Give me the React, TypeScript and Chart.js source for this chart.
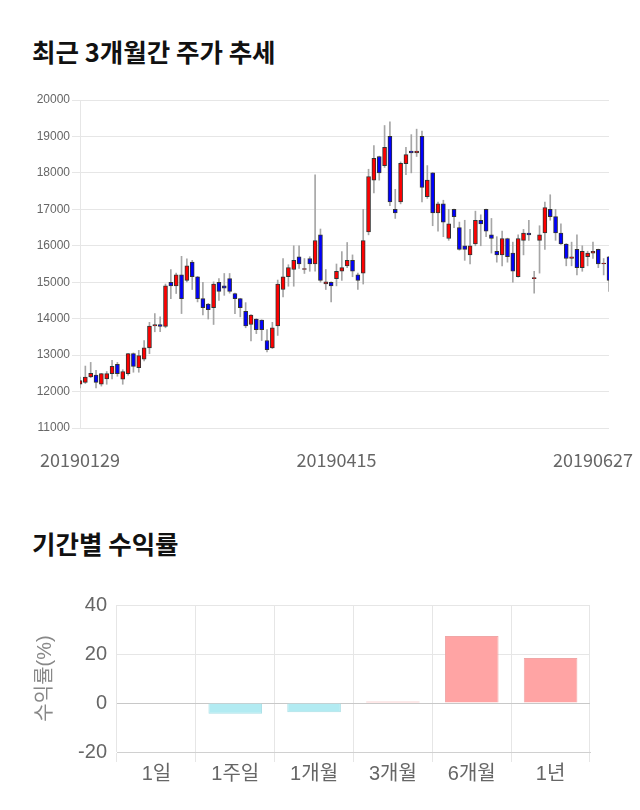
import { useEffect, useRef } from 'react';
import { Chart, registerables } from 'chart.js';

Chart.register(...registerables);

const FONT = "'Liberation Sans', Arial, 'Noto Sans CJK KR', sans-serif";
const CJK_FONT = "'Noto Sans CJK KR', sans-serif";

// ---- price chart data ----
const dates = [
  '20190129', '20190130', '20190131',
  '20190208', '20190211', '20190212', '20190213', '20190214', '20190215', '20190218', '20190219', '20190220', '20190221', '20190222', '20190225', '20190226', '20190227', '20190228',
  '20190304', '20190305', '20190306', '20190307', '20190308', '20190311', '20190312', '20190313', '20190314', '20190315', '20190318', '20190319', '20190320', '20190321', '20190322', '20190325', '20190326', '20190327', '20190328', '20190329',
  '20190401', '20190402', '20190403', '20190404', '20190405', '20190408', '20190409', '20190410', '20190411', '20190412',
  '20190415', '20190416', '20190417', '20190418', '20190419', '20190422', '20190423', '20190424', '20190425', '20190426', '20190429', '20190430',
  '20190507', '20190508', '20190509', '20190510', '20190513', '20190514', '20190515', '20190516', '20190517', '20190520', '20190521', '20190522', '20190523', '20190524', '20190527', '20190528', '20190529', '20190530', '20190531',
  '20190603', '20190604', '20190605', '20190607', '20190610', '20190611', '20190612', '20190613', '20190614', '20190617', '20190618', '20190619', '20190620', '20190621', '20190624', '20190625', '20190626', '20190627',
  '20190628', '20190701', '20190702',
];

const openPrices = [
  12200, 12250, 12400, 12450, 12200, 12350, 12490, 12750, 12340, 12490,
  13040, 12655, 12890, 13200, 13800, 13840, 13790, 15000, 14900, 15200,
  15050, 15550, 15150, 14550, 14400, 14300, 15000, 14900, 15100, 14690,
  14550, 14200, 13840, 13990, 13960, 13400, 13200, 13800, 14800, 15150,
  15350, 15700, 15350, 15650, 15500, 16300, 14950, 15000, 15100, 15300,
  15450, 15600, 15200, 15250, 16380, 17800, 18450, 18200, 19000, 17000,
  17200, 18250, 18600, 18550, 19000, 17350, 18000, 16900, 17150, 16200,
  17000, 16500, 16000, 15750, 16050, 16700, 17000, 16300, 15850, 15750,
  16200, 15800, 15150, 16150, 16350, 15100, 16150, 16350, 17000, 16800,
  16350, 16050, 15650, 15900, 15400, 15700, 15800, 15900, 15500, 15700,
];
const highPrices = [
  12400, 12700, 12800, 12580, 12500, 12550, 12860, 12800, 12600, 13050,
  13060, 13130, 13400, 13900, 14140, 14050, 14950, 15350, 15250, 15710,
  15640, 15600, 15160, 15000, 14420, 15010, 15100, 15240, 15240, 14700,
  14560, 14440, 14110, 14000, 13970, 13700, 13900, 15060, 15650, 15480,
  16000, 16000, 15650, 15700, 17950, 16460, 15350, 15010, 15500, 15840,
  16090, 15750, 15250, 17000, 18100, 18750, 18460, 19300, 19400, 17550,
  18300, 18700, 19050, 19200, 19150, 18200, 18010, 17200, 17250, 17000,
  17010, 16650, 16700, 16450, 16950, 16850, 17010, 16750, 16250, 16400,
  16210, 16100, 16300, 16450, 16700, 15300, 16550, 17200, 17400, 17000,
  16600, 16060, 16100, 16300, 16000, 15850, 16100, 15910, 15650, 15710,
];
const lowPrices = [
  12100, 12220, 12380, 12100, 12150, 12200, 12350, 12420, 12200, 12450,
  12530, 12530, 12840, 13040, 13640, 13640, 13750, 14550, 14690, 14140,
  15010, 14800, 14460, 14100, 13990, 13840, 14500, 14640, 14700, 14140,
  14050, 13750, 13390, 13590, 13400, 13090, 13180, 13540, 14600, 14890,
  14890, 15380, 15240, 15300, 15300, 15000, 14800, 14460, 14900, 15050,
  15400, 15150, 14800, 14950, 16300, 17450, 17800, 18150, 17100, 16750,
  17150, 17950, 18000, 18450, 17200, 17300, 16550, 16400, 16250, 16150,
  16500, 15880, 15600, 15500, 16000, 16000, 16250, 15800, 15550, 15450,
  15550, 15000, 15140, 15750, 16150, 14700, 15250, 15900, 16700, 16150,
  16040, 15450, 15450, 15200, 15300, 15450, 15650, 15400, 15200, 14750,
];
const closePrices = [
  12300, 12400, 12500, 12250, 12490, 12490, 12690, 12490, 12550, 13040,
  12690, 12985, 13200, 13800, 13840, 13790, 14900, 14900, 15200, 14550,
  15450, 15150, 14550, 14300, 14250, 14950, 14750, 14840, 14750, 14550,
  14300, 13800, 14100, 13700, 13700, 13150, 13750, 14950, 15150, 15400,
  15600, 15500, 15350, 15500, 16140, 15050, 15010, 14900, 15300, 15400,
  15600, 15300, 15050, 16140, 17900, 18400, 18000, 18700, 17200, 16900,
  18260, 18500, 18550, 18600, 17600, 17800, 16900, 17150, 16650, 16600,
  16800, 15900, 15900, 16000, 16700, 16600, 16400, 16200, 15750, 16200,
  15700, 15300, 16200, 16350, 16300, 15100, 16300, 17050, 16800, 16350,
  16050, 15650, 15700, 15400, 15850, 15800, 15850, 15500, 15500, 15050,
];
const xTickLabels = ['20190129', '20190415', '20190627'];
const priceMin = 11000;
const priceMax = 20000;
const priceStep = 1000;

// ---- returns chart data ----
const periods = ['1일', '1주일', '1개월', '3개월', '6개월', '1년'];
const returns = [0, -4.4, -3.8, 0.6, 27.3, 18.4];
const returnMin = -20;
const returnMax = 40;
const returnStep = 20;

function PriceChart() {
  const ref = useRef<HTMLCanvasElement>(null);
  useEffect(() => {
    const up = (i: number) => closePrices[i] >= openPrices[i];
    const chart = new Chart(ref.current!, {
      type: 'bar',
      data: {
        labels: dates,
        datasets: [
          {
            label: 'body',
            data: dates.map((_, i) => [openPrices[i], closePrices[i]]) as any,
            backgroundColor: dates.map((_, i) => (up(i) ? '#ff0000' : '#0000ff')),
            borderColor: '#333333',
            borderWidth: 1,
            borderSkipped: false,
            barThickness: 4,
            minBarLength: 1,
            grouped: false,
            order: 0,
          } as any,
          {
            label: 'wick',
            data: dates.map((_, i) => [lowPrices[i], highPrices[i]]) as any,
            backgroundColor: '#a6a6a6',
            borderWidth: 0,
            barThickness: 1,
            grouped: false,
            order: 1,
          } as any,
        ],
      },
      options: {
        animation: false,
        responsive: false,
        maintainAspectRatio: false,
        layout: { padding: { top: 12, right: 31, left: 0, bottom: 0 } },
        plugins: { legend: { display: false }, tooltip: { enabled: false } },
        scales: {
          x: {
            offset: false,
            grid: { display: false, drawTicks: false },
            border: { display: false },
            afterFit: (s: any) => {
              s.height = 42;
              s.paddingLeft = 0;
              s.paddingRight = 0;
            },
            ticks: {
              autoSkip: false,
              maxRotation: 0,
              padding: 21,
              color: '#666',
              font: { family: CJK_FONT, size: 18 },
              callback: (_v: any, i: number) => (xTickLabels.includes(dates[i]) ? dates[i] : null),
            },
          },
          y: {
            min: priceMin,
            max: priceMax,
            afterFit: (s: any) => {
              s.width = 80;
              s.paddingTop = 0;
              s.paddingBottom = 0;
            },
            ticks: {
              stepSize: priceStep,
              color: '#666',
              font: { family: FONT, size: 12 },
              padding: 2,
              callback: (v: any) => String(v),
            },
            grid: { color: '#e6e6e6', tickLength: 8 },
            border: { color: '#e6e6e6' },
          },
        },
      },
    });
    return () => chart.destroy();
  }, []);
  return <canvas ref={ref} width={640} height={382} style={{ position: 'absolute', left: 0, top: 88, width: 640, height: 382 }} />;
}

function ReturnChart() {
  const ref = useRef<HTMLCanvasElement>(null);
  useEffect(() => {
    const chart = new Chart(ref.current!, {
      type: 'bar',
      data: {
        labels: periods,
        datasets: [
          {
            label: '수익률',
            data: returns,
            backgroundColor: returns.map((v) => (v >= 0 ? '#ffa4a4' : '#b2ebf2')),
            borderColor: returns.map((v) => (v >= 0 ? '#f0a6a6' : '#a9dfe6')),
            borderWidth: 1,
            barPercentage: 0.85,
            categoryPercentage: 0.8,
          },
        ],
      },
      options: {
        animation: false,
        responsive: false,
        maintainAspectRatio: false,
        layout: { padding: { top: 15, right: 50, left: 29, bottom: 14 } },
        plugins: { legend: { display: false }, tooltip: { enabled: false } },
        scales: {
          x: {
            grid: { color: '#e6e6e6', offset: true, tickLength: 10 },
            border: { color: '#d0d0d0' },
            afterFit: (s: any) => {
              s.paddingLeft = 0;
              s.paddingRight = 0;
            },
            ticks: { color: '#666', font: { family: FONT, size: 20 }, padding: 0 },
          },
          y: {
            min: returnMin,
            max: returnMax,
            afterFit: (s: any) => {
              s.width = 88;
              s.paddingTop = 0;
              s.paddingBottom = 0;
            },
            ticks: { stepSize: returnStep, color: '#666', font: { family: FONT, size: 20 }, padding: 10 },
            grid: {
              drawTicks: false,
              color: (ctx: any) => (ctx.tick && ctx.tick.value === 0 ? '#c8c8c8' : '#e6e6e6'),
            },
            border: { display: false },
            title: { display: true, text: '수익률(%)', color: '#888', font: { family: FONT, size: 20 } },
          },
        },
      },
    });
    return () => chart.destroy();
  }, []);
  return <canvas ref={ref} width={640} height={210} style={{ position: 'absolute', left: 0, top: 590, width: 640, height: 210 }} />;
}

const titleStyle: React.CSSProperties = {
  position: 'absolute',
  left: 32,
  margin: 0,
  fontFamily: "'Noto Sans CJK KR', sans-serif",
  fontWeight: 700,
  fontSize: 25.5,
  lineHeight: '26px',
  color: '#111',
  whiteSpace: 'nowrap',
};

export default function App() {
  return (
    <div style={{ position: 'absolute', left: 0, top: 0, width: 640, height: 810, overflow: 'hidden', background: '#fff' }}>
      <div style={{ ...titleStyle, top: 38 }}>최근 3개월간 주가 추세</div>
      <PriceChart />
      <div style={{ ...titleStyle, top: 530 }}>기간별 수익률</div>
      <ReturnChart />
    </div>
  );
}
